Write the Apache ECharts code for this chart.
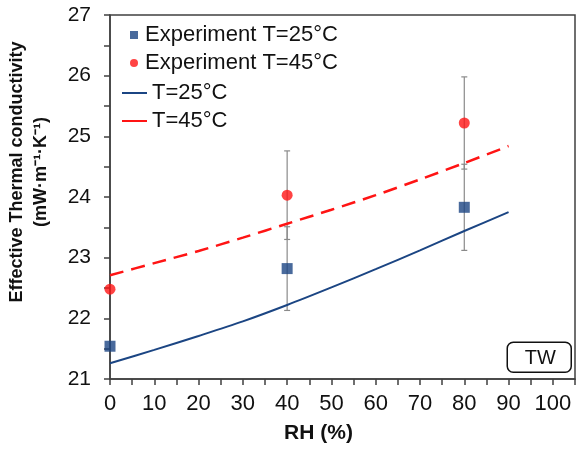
<!DOCTYPE html>
<html>
<head>
<meta charset="utf-8">
<script src="https://cdn.jsdelivr.net/npm/echarts@6/dist/echarts.min.js"></script>
<style>
  html, body { margin: 0; padding: 0; background: #fff; }
  #chart { width: 576px; height: 450px; }
</style>
</head>
<body>
<div id="chart"></div>
<script>
// measured points
const expRH = [0, 40, 80];
const exp25 = [21.54, 22.82, 23.83];
const exp45 = [22.48, 24.03, 25.22];
const err25 = [0, 0.69, 0.71];
const err45 = [0, 0.73, 0.76];

// model curves
const modelRH = [0, 10, 20, 30, 40, 50, 60, 70, 80, 90];
const model25 = [21.26, 21.48, 21.71, 21.95, 22.22, 22.51, 22.81, 23.12, 23.44, 23.75];
const model45 = [22.71, 22.91, 23.11, 23.33, 23.56, 23.79, 24.03, 24.29, 24.56, 24.84];

const axisColor = "#404040";
const blue = "#1B4583";
const red = "#FF1414";
const font = "Liberation Sans, Arial, sans-serif";

const errData = [];
expRH.forEach((x, i) => {
  if (err45[i] > 0) errData.push([x, exp45[i] - err45[i], exp45[i] + err45[i]]);
  if (err25[i] > 0) errData.push([x, exp25[i] - err25[i], exp25[i] + err25[i]]);
});

const chart = echarts.init(document.getElementById("chart"));
chart.setOption({
  animation: false,
  textStyle: { fontFamily: font },
  grid: {
    left: 110, right: 1, top: 15, bottom: 71,
    show: true, borderColor: axisColor, borderWidth: 1.5,
  },
  legend: [
    {
      orient: "vertical", left: 125, top: 19, itemGap: 6,
      itemWidth: 8, itemHeight: 8,
      textStyle: { fontSize: 22, color: "#111", fontFamily: font, padding: [0, 0, 0, 2] },
      data: [
        { name: "Experiment T=25°C", icon: "rect" },
        { name: "Experiment T=45°C", icon: "circle" },
      ],
    },
    {
      orient: "vertical", left: 117, top: 77, itemGap: 6,
      itemWidth: 25, itemHeight: 2,
      textStyle: { fontSize: 22, color: "#111", fontFamily: font, padding: [0, 0, 0, 0] },
      data: [
        { name: "T=25°C", icon: "rect" },
        { name: "T=45°C", icon: "rect" },
      ],
    },
  ],
  xAxis: {
    type: "value", min: 0, max: 105, interval: 10,
    name: "RH (%)", nameLocation: "middle", nameGap: 44,
    nameTextStyle: { fontSize: 21, fontWeight: "bold", color: "#111", fontFamily: font, padding: [0, 48, 0, 0] },
    axisLine: { lineStyle: { color: axisColor, width: 1.5 } },
    axisTick: { inside: false, length: 6, lineStyle: { color: axisColor, width: 1.5 } },
    minorTick: { show: true, splitNumber: 2, length: 6, lineStyle: { color: axisColor, width: 1.5 } },
    axisLabel: { fontSize: 22, color: "#111", margin: 14, fontFamily: font },
    splitLine: { show: false },
  },
  yAxis: {
    type: "value", min: 21, max: 27, interval: 1,
    axisLine: { show: true, lineStyle: { color: axisColor, width: 1.5 } },
    axisTick: { show: true, inside: false, length: 6, lineStyle: { color: axisColor, width: 1.5 } },
    minorTick: { show: true, splitNumber: 2, length: 6, lineStyle: { color: axisColor, width: 1.5 } },
    axisLabel: { fontSize: 21, color: "#111", margin: 19, fontFamily: font },
    splitLine: { show: false },
  },
  graphic: [
    {
      type: "text", x: 17, y: 172, rotation: Math.PI / 2,
      style: {
        text: "Effective Thermal conductivity",
        font: "bold 18px " + font, fill: "#111", align: "center", verticalAlign: "middle",
      },
    },
    {
      type: "text", x: 41, y: 172, rotation: Math.PI / 2,
      style: {
        text: "(mW·m⁻¹·K⁻¹)",
        font: "bold 18px " + font, fill: "#111", align: "center", verticalAlign: "middle",
      },
    },
    {
      type: "group", right: 4, bottom: 77,
      children: [
        {
          type: "rect", shape: { x: 0, y: 0, width: 64, height: 30, r: 6 },
          style: { fill: "#fff", stroke: "#111", lineWidth: 1.5 },
        },
        {
          type: "text", x: 33, y: 16,
          style: { text: "TW", font: "20px " + font, fill: "#111", align: "center", verticalAlign: "middle" },
        },
      ],
    },
  ],
  series: [
    {
      name: "T=25°C", type: "line", showSymbol: false, symbol: "none",
      data: modelRH.map((x, i) => [x, model25[i]]),
      lineStyle: { color: blue, width: 2 }, itemStyle: { color: blue },
      smooth: 0.3, z: 2,
    },
    {
      name: "T=45°C", type: "line", showSymbol: false, symbol: "none",
      data: modelRH.map((x, i) => [x, model45[i]]),
      lineStyle: { color: red, width: 2.5, type: [14, 8] }, itemStyle: { color: red },
      smooth: 0.3, z: 2,
    },
    {
      type: "custom", name: "err",
      data: errData,
      renderItem: (params, api) => {
        const x = api.value(0);
        const lo = api.coord([x, api.value(1)]);
        const hi = api.coord([x, api.value(2)]);
        const style = { stroke: "#8a8a8a", lineWidth: 1.2 };
        return {
          type: "group",
          children: [
            { type: "line", shape: { x1: lo[0], y1: lo[1], x2: hi[0], y2: hi[1] }, style },
            { type: "line", shape: { x1: lo[0] - 3, y1: lo[1], x2: lo[0] + 3, y2: lo[1] }, style },
            { type: "line", shape: { x1: hi[0] - 3, y1: hi[1], x2: hi[0] + 3, y2: hi[1] }, style },
          ],
        };
      },
      z: 1, silent: true,
    },
    {
      name: "Experiment T=25°C", type: "scatter", symbol: "rect", symbolSize: 11,
      data: expRH.map((x, i) => [x, exp25[i]]),
      itemStyle: { color: blue }, z: 5,
    },
    {
      name: "Experiment T=45°C", type: "scatter", symbol: "circle", symbolSize: 11,
      data: expRH.map((x, i) => [x, exp45[i]]),
      itemStyle: { color: red }, z: 5,
    },
  ],
});
</script>
</body>
</html>
